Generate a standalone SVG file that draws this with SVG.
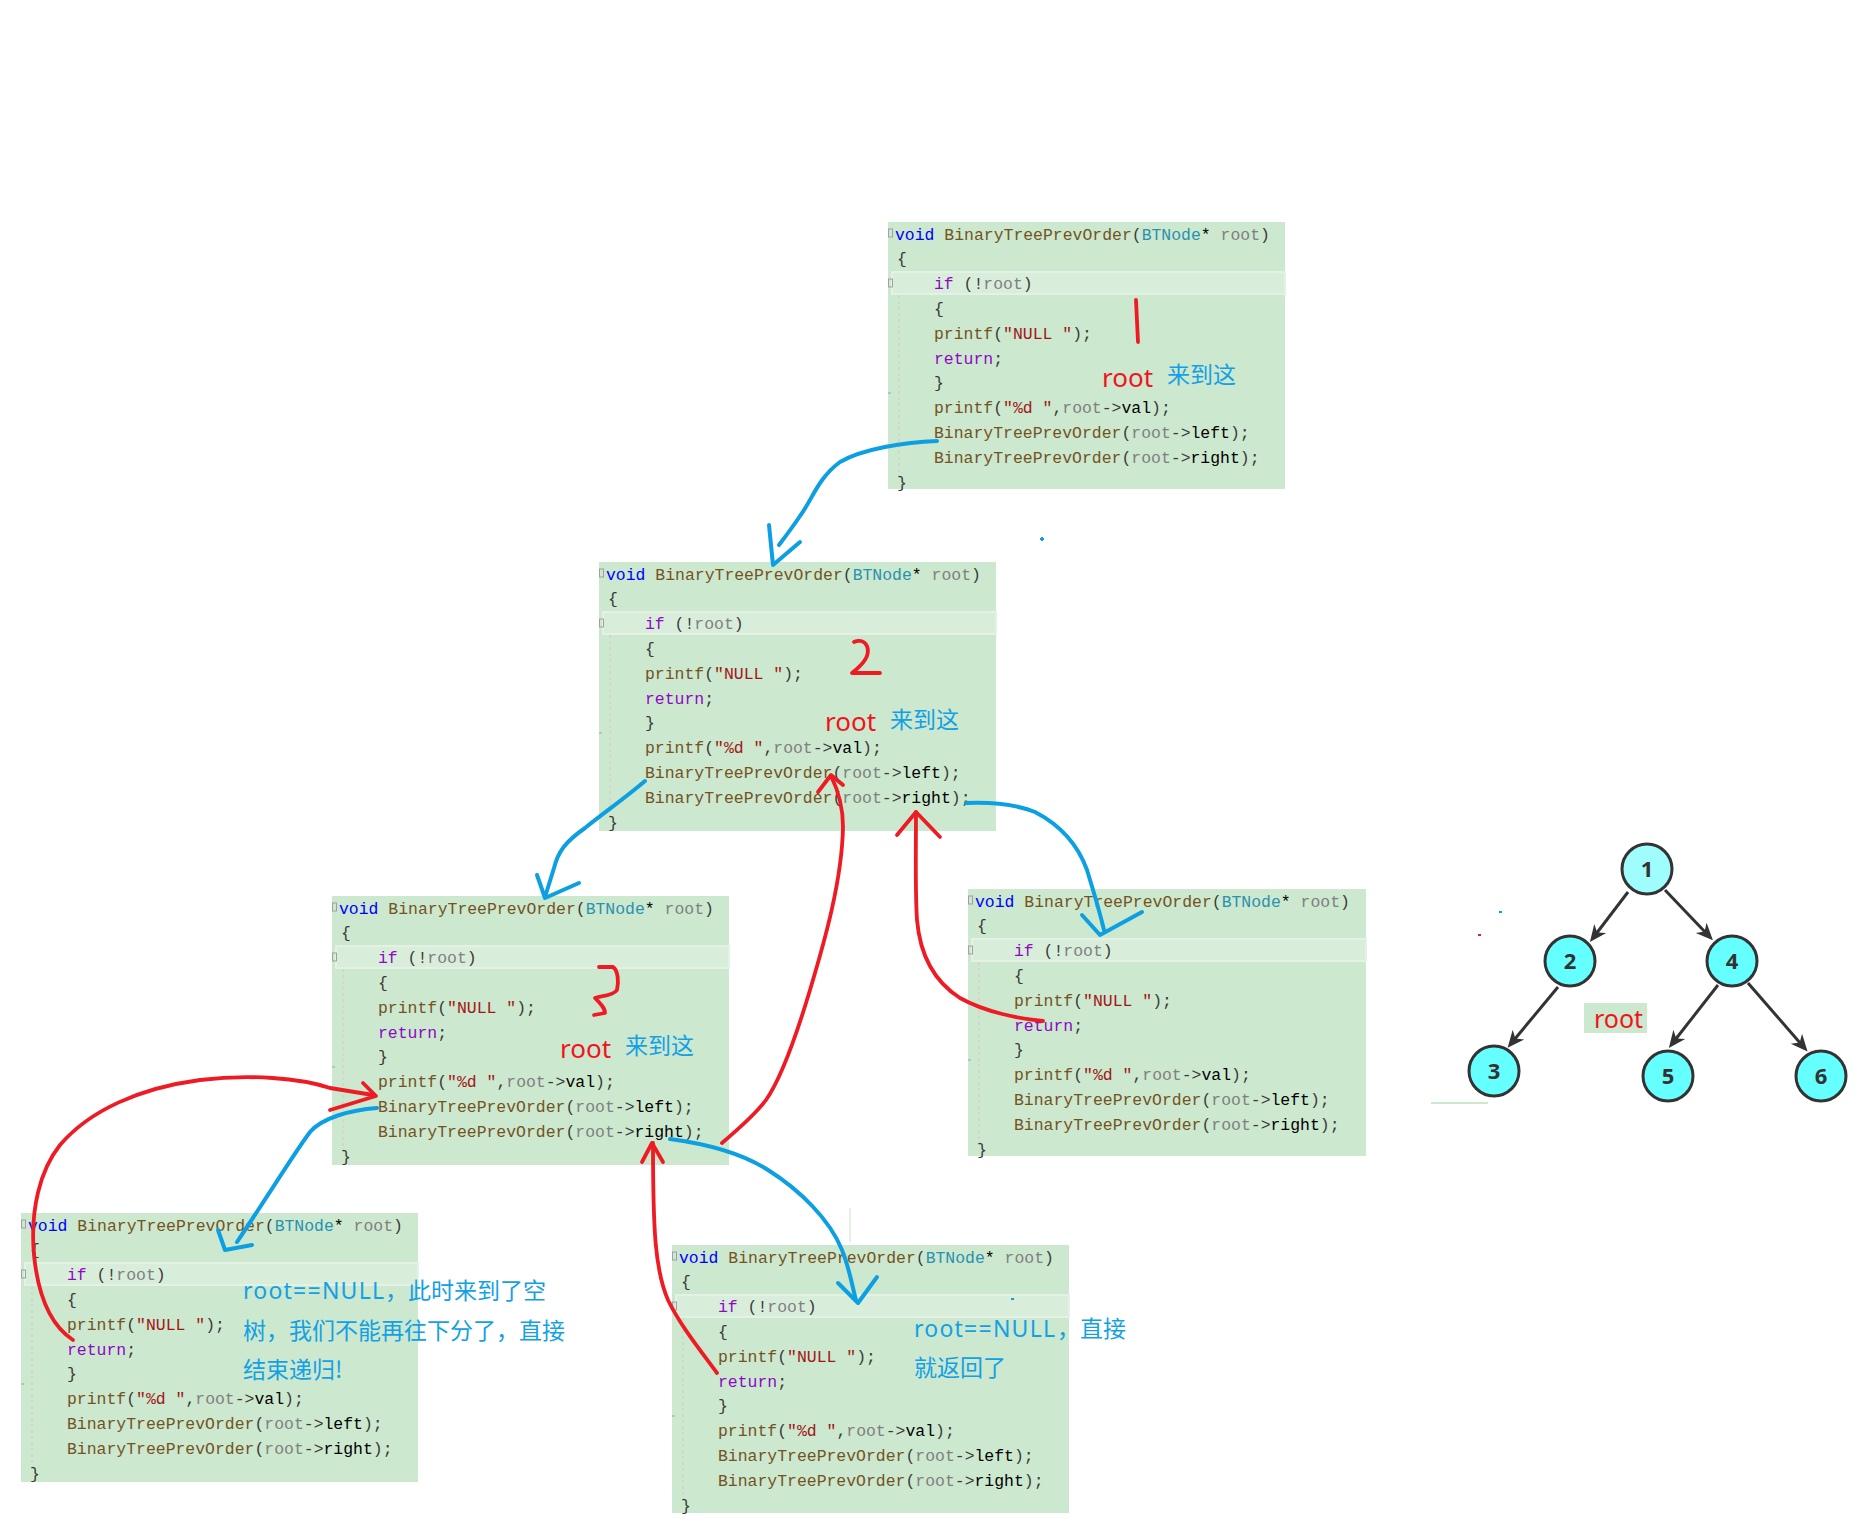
<svg xmlns="http://www.w3.org/2000/svg" width="1871" height="1531" viewBox="0 0 1871 1531" xml:space="preserve">
<defs>
<style>
.box{fill:#cce8cf}
.hl{fill:#d9eddb;stroke:#e3f2e5;stroke-width:2}
.guide{stroke:#d6c6ca;stroke-width:1;stroke-dasharray:3 3;fill:none}
.fold{fill:none;stroke:#a0a0a0;stroke-width:1}
.code{font-family:"Liberation Mono","DejaVu Sans Mono",monospace;font-size:16.45px;fill:#3a3a3a}
.k{fill:#0000ff}.fn{fill:#74531f}.ty{fill:#2b91af}.pr{fill:#808080}.kw{fill:#8f08c4}.st{fill:#a31515}.bl{fill:#000000}
.red{fill:none;stroke:#ee1b24;stroke-width:3.8;stroke-linecap:round;stroke-linejoin:round}
.blue{fill:none;stroke:#0c9fe2;stroke-width:4;stroke-linecap:round;stroke-linejoin:round}
.rt{font-family:"Noto Sans","Liberation Sans",sans-serif;font-size:26px;fill:#f0141e}
.bt{font-family:"Noto Sans CJK SC","Noto Sans",sans-serif;font-size:23px;fill:#13a1e4}
.bl2{font-family:"Noto Sans","Noto Sans CJK SC",sans-serif;font-size:23px;fill:#13a1e4}
.edge{stroke:#333333;stroke-width:3;fill:none}
.tn{stroke:#333333;stroke-width:3;fill:#66ffff}
.num{font-family:"Open Sans","Noto Sans",sans-serif;font-weight:bold;font-size:22px;fill:#333333;text-anchor:middle}
</style>
<marker id="ah" viewBox="-28 -10 30 20" refX="-10" refY="0" markerWidth="30" markerHeight="20" markerUnits="userSpaceOnUse" orient="auto"><path d="M0,0 L-17,-7.5 L-12,0 L-17,7.5 Z" fill="#333333"/></marker>
</defs>
<rect x="0" y="0" width="1871" height="1531" fill="#ffffff"/>

<g id="box1" transform="translate(888,222)">
<rect class="box" x="0" y="0" width="397" height="267"/>
<rect class="hl" x="4" y="50" width="393" height="22"/>
<line class="guide" x1="11" y1="73" x2="11" y2="255"/>
<rect class="fold" x="0.5" y="7" width="4" height="8"/><rect class="fold" x="0.5" y="57" width="4" height="8"/><line class="fold" x1="0" y1="171" x2="3" y2="171"/>
<text class="code" x="7" y="17.5"><tspan class="k">void</tspan> <tspan class="fn">BinaryTreePrevOrder</tspan>(<tspan class="ty">BTNode</tspan><tspan class="bl">*</tspan> <tspan class="pr">root</tspan>)</text>
<text class="code" x="9" y="42.3">{</text>
<text class="code" x="46" y="67.1"><tspan class="kw">if</tspan> (!<tspan class="pr">root</tspan>)</text>
<text class="code" x="46" y="91.9">{</text>
<text class="code" x="46" y="116.7"><tspan class="fn">printf</tspan>(<tspan class="st">"NULL "</tspan>);</text>
<text class="code" x="46" y="141.5"><tspan class="kw">return</tspan>;</text>
<text class="code" x="46" y="166.3">}</text>
<text class="code" x="46" y="191.1"><tspan class="fn">printf</tspan>(<tspan class="st">"%d "</tspan>,<tspan class="pr">root</tspan>-&gt;<tspan class="bl">val</tspan>);</text>
<text class="code" x="46" y="215.9"><tspan class="fn">BinaryTreePrevOrder</tspan>(<tspan class="pr">root</tspan>-&gt;<tspan class="bl">left</tspan>);</text>
<text class="code" x="46" y="240.7"><tspan class="fn">BinaryTreePrevOrder</tspan>(<tspan class="pr">root</tspan>-&gt;<tspan class="bl">right</tspan>);</text>
<text class="code" x="9" y="265.5">}</text>
</g>

<g id="box2" transform="translate(599,562)">
<rect class="box" x="0" y="0" width="397" height="269"/>
<rect class="hl" x="4" y="50" width="393" height="22"/>
<line class="guide" x1="11" y1="73" x2="11" y2="255"/>
<rect class="fold" x="0.5" y="7" width="4" height="8"/><rect class="fold" x="0.5" y="57" width="4" height="8"/><line class="fold" x1="0" y1="171" x2="3" y2="171"/>
<text class="code" x="7" y="17.5"><tspan class="k">void</tspan> <tspan class="fn">BinaryTreePrevOrder</tspan>(<tspan class="ty">BTNode</tspan><tspan class="bl">*</tspan> <tspan class="pr">root</tspan>)</text>
<text class="code" x="9" y="42.3">{</text>
<text class="code" x="46" y="67.1"><tspan class="kw">if</tspan> (!<tspan class="pr">root</tspan>)</text>
<text class="code" x="46" y="91.9">{</text>
<text class="code" x="46" y="116.7"><tspan class="fn">printf</tspan>(<tspan class="st">"NULL "</tspan>);</text>
<text class="code" x="46" y="141.5"><tspan class="kw">return</tspan>;</text>
<text class="code" x="46" y="166.3">}</text>
<text class="code" x="46" y="191.1"><tspan class="fn">printf</tspan>(<tspan class="st">"%d "</tspan>,<tspan class="pr">root</tspan>-&gt;<tspan class="bl">val</tspan>);</text>
<text class="code" x="46" y="215.9"><tspan class="fn">BinaryTreePrevOrder</tspan>(<tspan class="pr">root</tspan>-&gt;<tspan class="bl">left</tspan>);</text>
<text class="code" x="46" y="240.7"><tspan class="fn">BinaryTreePrevOrder</tspan>(<tspan class="pr">root</tspan>-&gt;<tspan class="bl">right</tspan>);</text>
<text class="code" x="9" y="265.5">}</text>
</g>

<g id="box3" transform="translate(332,896)">
<rect class="box" x="0" y="0" width="397" height="269"/>
<rect class="hl" x="4" y="50" width="393" height="22"/>
<line class="guide" x1="11" y1="73" x2="11" y2="255"/>
<rect class="fold" x="0.5" y="7" width="4" height="8"/><rect class="fold" x="0.5" y="57" width="4" height="8"/><line class="fold" x1="0" y1="171" x2="3" y2="171"/>
<text class="code" x="7" y="17.5"><tspan class="k">void</tspan> <tspan class="fn">BinaryTreePrevOrder</tspan>(<tspan class="ty">BTNode</tspan><tspan class="bl">*</tspan> <tspan class="pr">root</tspan>)</text>
<text class="code" x="9" y="42.3">{</text>
<text class="code" x="46" y="67.1"><tspan class="kw">if</tspan> (!<tspan class="pr">root</tspan>)</text>
<text class="code" x="46" y="91.9">{</text>
<text class="code" x="46" y="116.7"><tspan class="fn">printf</tspan>(<tspan class="st">"NULL "</tspan>);</text>
<text class="code" x="46" y="141.5"><tspan class="kw">return</tspan>;</text>
<text class="code" x="46" y="166.3">}</text>
<text class="code" x="46" y="191.1"><tspan class="fn">printf</tspan>(<tspan class="st">"%d "</tspan>,<tspan class="pr">root</tspan>-&gt;<tspan class="bl">val</tspan>);</text>
<text class="code" x="46" y="215.9"><tspan class="fn">BinaryTreePrevOrder</tspan>(<tspan class="pr">root</tspan>-&gt;<tspan class="bl">left</tspan>);</text>
<text class="code" x="46" y="240.7"><tspan class="fn">BinaryTreePrevOrder</tspan>(<tspan class="pr">root</tspan>-&gt;<tspan class="bl">right</tspan>);</text>
<text class="code" x="9" y="265.5">}</text>
</g>

<g id="box4" transform="translate(968,889)">
<rect class="box" x="0" y="0" width="398" height="267"/>
<rect class="hl" x="4" y="50" width="394" height="22"/>
<line class="guide" x1="11" y1="73" x2="11" y2="255"/>
<rect class="fold" x="0.5" y="7" width="4" height="8"/><rect class="fold" x="0.5" y="57" width="4" height="8"/><line class="fold" x1="0" y1="171" x2="3" y2="171"/>
<text class="code" x="7" y="17.5"><tspan class="k">void</tspan> <tspan class="fn">BinaryTreePrevOrder</tspan>(<tspan class="ty">BTNode</tspan><tspan class="bl">*</tspan> <tspan class="pr">root</tspan>)</text>
<text class="code" x="9" y="42.3">{</text>
<text class="code" x="46" y="67.1"><tspan class="kw">if</tspan> (!<tspan class="pr">root</tspan>)</text>
<text class="code" x="46" y="91.9">{</text>
<text class="code" x="46" y="116.7"><tspan class="fn">printf</tspan>(<tspan class="st">"NULL "</tspan>);</text>
<text class="code" x="46" y="141.5"><tspan class="kw">return</tspan>;</text>
<text class="code" x="46" y="166.3">}</text>
<text class="code" x="46" y="191.1"><tspan class="fn">printf</tspan>(<tspan class="st">"%d "</tspan>,<tspan class="pr">root</tspan>-&gt;<tspan class="bl">val</tspan>);</text>
<text class="code" x="46" y="215.9"><tspan class="fn">BinaryTreePrevOrder</tspan>(<tspan class="pr">root</tspan>-&gt;<tspan class="bl">left</tspan>);</text>
<text class="code" x="46" y="240.7"><tspan class="fn">BinaryTreePrevOrder</tspan>(<tspan class="pr">root</tspan>-&gt;<tspan class="bl">right</tspan>);</text>
<text class="code" x="9" y="265.5">}</text>
</g>

<g id="box5" transform="translate(21,1213)">
<rect class="box" x="0" y="0" width="397" height="269"/>
<rect class="hl" x="4" y="50" width="393" height="22"/>
<line class="guide" x1="11" y1="73" x2="11" y2="255"/>
<rect class="fold" x="0.5" y="7" width="4" height="8"/><rect class="fold" x="0.5" y="57" width="4" height="8"/><line class="fold" x1="0" y1="171" x2="3" y2="171"/>
<text class="code" x="7" y="17.5"><tspan class="k">void</tspan> <tspan class="fn">BinaryTreePrevOrder</tspan>(<tspan class="ty">BTNode</tspan><tspan class="bl">*</tspan> <tspan class="pr">root</tspan>)</text>
<text class="code" x="9" y="42.3">{</text>
<text class="code" x="46" y="67.1"><tspan class="kw">if</tspan> (!<tspan class="pr">root</tspan>)</text>
<text class="code" x="46" y="91.9">{</text>
<text class="code" x="46" y="116.7"><tspan class="fn">printf</tspan>(<tspan class="st">"NULL "</tspan>);</text>
<text class="code" x="46" y="141.5"><tspan class="kw">return</tspan>;</text>
<text class="code" x="46" y="166.3">}</text>
<text class="code" x="46" y="191.1"><tspan class="fn">printf</tspan>(<tspan class="st">"%d "</tspan>,<tspan class="pr">root</tspan>-&gt;<tspan class="bl">val</tspan>);</text>
<text class="code" x="46" y="215.9"><tspan class="fn">BinaryTreePrevOrder</tspan>(<tspan class="pr">root</tspan>-&gt;<tspan class="bl">left</tspan>);</text>
<text class="code" x="46" y="240.7"><tspan class="fn">BinaryTreePrevOrder</tspan>(<tspan class="pr">root</tspan>-&gt;<tspan class="bl">right</tspan>);</text>
<text class="code" x="9" y="265.5">}</text>
</g>

<g id="box6" transform="translate(672,1245)">
<rect class="box" x="0" y="0" width="397" height="268"/>
<rect class="hl" x="4" y="50" width="393" height="22"/>
<line class="guide" x1="11" y1="73" x2="11" y2="255"/>
<rect class="fold" x="0.5" y="7" width="4" height="8"/><rect class="fold" x="0.5" y="57" width="4" height="8"/><line class="fold" x1="0" y1="171" x2="3" y2="171"/>
<text class="code" x="7" y="17.5"><tspan class="k">void</tspan> <tspan class="fn">BinaryTreePrevOrder</tspan>(<tspan class="ty">BTNode</tspan><tspan class="bl">*</tspan> <tspan class="pr">root</tspan>)</text>
<text class="code" x="9" y="42.3">{</text>
<text class="code" x="46" y="67.1"><tspan class="kw">if</tspan> (!<tspan class="pr">root</tspan>)</text>
<text class="code" x="46" y="91.9">{</text>
<text class="code" x="46" y="116.7"><tspan class="fn">printf</tspan>(<tspan class="st">"NULL "</tspan>);</text>
<text class="code" x="46" y="141.5"><tspan class="kw">return</tspan>;</text>
<text class="code" x="46" y="166.3">}</text>
<text class="code" x="46" y="191.1"><tspan class="fn">printf</tspan>(<tspan class="st">"%d "</tspan>,<tspan class="pr">root</tspan>-&gt;<tspan class="bl">val</tspan>);</text>
<text class="code" x="46" y="215.9"><tspan class="fn">BinaryTreePrevOrder</tspan>(<tspan class="pr">root</tspan>-&gt;<tspan class="bl">left</tspan>);</text>
<text class="code" x="46" y="240.7"><tspan class="fn">BinaryTreePrevOrder</tspan>(<tspan class="pr">root</tspan>-&gt;<tspan class="bl">right</tspan>);</text>
<text class="code" x="9" y="265.5">}</text>
</g>

<g id="annotations">
<path class="red" d="M1136,300 L1138,342"/>
<path class="red" d="M854,642 C858,640 864,640 867,646 C870,654 866,662 852,673 L880,673"/>
<path class="red" d="M599,967 L613,967 C618,970 619,982 617,990 C613,996 600,996 595,998 C600,1003 605,1008 605,1013 L594,1015"/>
<text class="rt" x="1102" y="387">root</text>
<text class="bt" x="1167" y="383">来到这</text>
<text class="rt" x="825" y="731">root</text>
<text class="bt" x="890" y="728">来到这</text>
<text class="rt" x="560" y="1058">root</text>
<text class="bt" x="625" y="1054">来到这</text>
<text class="bl2" x="243" y="1299" textLength="141" lengthAdjust="spacing">root==NULL</text>
<text class="bt" x="385" y="1299">，此时来到了空</text>
<text class="bt" x="243" y="1339">树，我们不能再往下分了，直接</text>
<text class="bt" x="243" y="1378">结束递归!</text>
<text class="bl2" x="914" y="1337" textLength="141" lengthAdjust="spacing">root==NULL</text>
<text class="bt" x="1057" y="1337">，直接</text>
<text class="bt" x="914" y="1376">就返回了</text>
<rect x="1040" y="538" width="4" height="2" fill="#0c9fe2"/><rect x="1041" y="537" width="2" height="4" fill="#0c9fe2"/>
<rect x="1499" y="911" width="3" height="2" fill="#0c9fe2"/>
<rect x="1478" y="934" width="3" height="2" fill="#ee1b24"/>
<rect x="1011" y="1298" width="3" height="2" fill="#0c9fe2"/>
<line x1="850" y1="1208" x2="850" y2="1242" stroke="#c6e4ca" stroke-width="1"/>
<line x1="1431" y1="1103" x2="1488" y2="1103" stroke="#cce8cf" stroke-width="2"/>
</g>

<g id="connectors">
<path class="blue" d="M937,441 C905,442 862,449 840,462 C818,478 812,500 800,516 C792,528 785,537 779,545"/>
<path class="blue" d="M769,525 L773,565 L800,542"/>
<path class="blue" d="M645,781 C625,798 605,812 585,828 C565,842 558,852 554,868 L545,897"/>
<path class="blue" d="M537,875 L545,898 L579,883"/>
<path class="blue" d="M966,803 C990,802 1015,804 1035,812 C1060,825 1078,845 1087,870 C1093,890 1098,905 1104,930"/>
<path class="blue" d="M1082,915 L1100,935 L1142,912"/>
<path class="blue" d="M377,1108 C350,1110 322,1118 310,1132 C295,1152 275,1185 237,1242"/>
<path class="blue" d="M218,1230 L225,1250 L252,1245"/>
<path class="blue" d="M670,1139 C700,1143 740,1152 768,1170 C800,1190 830,1220 842,1250 C850,1270 853,1290 856,1300"/>
<path class="blue" d="M838,1283 L858,1303 L877,1277"/>
<path class="red" d="M1043,1021 C1020,1019 985,1012 960,998 C935,982 920,955 917,920 C915,890 916,850 916,812"/>
<path class="red" d="M897,835 L916,812 L940,837"/>
<path class="red" d="M722,1143 C735,1132 755,1115 766,1100 C780,1080 795,1040 810,990 C825,940 842,880 843,827 C843,805 838,790 831,776"/>
<path class="red" d="M818,792 L831,775 L843,785"/>
<path class="red" d="M73,1340 C50,1325 38,1295 34,1255 C30,1210 40,1170 60,1145 C90,1110 140,1088 200,1080 C250,1074 300,1078 330,1088 L373,1095"/>
<path class="red" d="M363,1083 L376,1096 L330,1110"/>
<path class="red" d="M717,1373 C700,1350 680,1325 668,1300 C655,1270 653,1230 653,1143"/>
<path class="red" d="M642,1162 L652,1143 L663,1162"/>
</g>

<g id="tree">
<g id="tree-edges">
<line class="edge" x1="1628" y1="892" x2="1596" y2="934" marker-end="url(#ah)"/>
<line class="edge" x1="1665" y1="890" x2="1706" y2="933" marker-end="url(#ah)"/>
<line class="edge" x1="1558" y1="987" x2="1514" y2="1040" marker-end="url(#ah)"/>
<line class="edge" x1="1718" y1="985" x2="1675" y2="1040" marker-end="url(#ah)"/>
<line class="edge" x1="1748" y1="983" x2="1801" y2="1044" marker-end="url(#ah)"/>
</g>
<g id="node1"><circle class="tn" cx="1647" cy="869" r="25" style="fill:#9ffdfd"/><text class="num" x="1647" y="877">1</text></g>
<g id="node2"><circle class="tn" cx="1570" cy="961" r="25"/><text class="num" x="1570" y="969">2</text></g>
<g id="node4"><circle class="tn" cx="1732" cy="961" r="25"/><text class="num" x="1732" y="969">4</text></g>
<g id="node3"><circle class="tn" cx="1494" cy="1071" r="25"/><text class="num" x="1494" y="1079">3</text></g>
<g id="node5"><circle class="tn" cx="1668" cy="1076" r="25"/><text class="num" x="1668" y="1084">5</text></g>
<g id="node6"><circle class="tn" cx="1821" cy="1076" r="25"/><text class="num" x="1821" y="1084">6</text></g>
<g id="root-label"><rect x="1584" y="1003" width="63" height="30" fill="#cce8cf"/><text class="rt" x="1594" y="1028" style="font-size:25px">root</text></g>
</g>
</svg>
